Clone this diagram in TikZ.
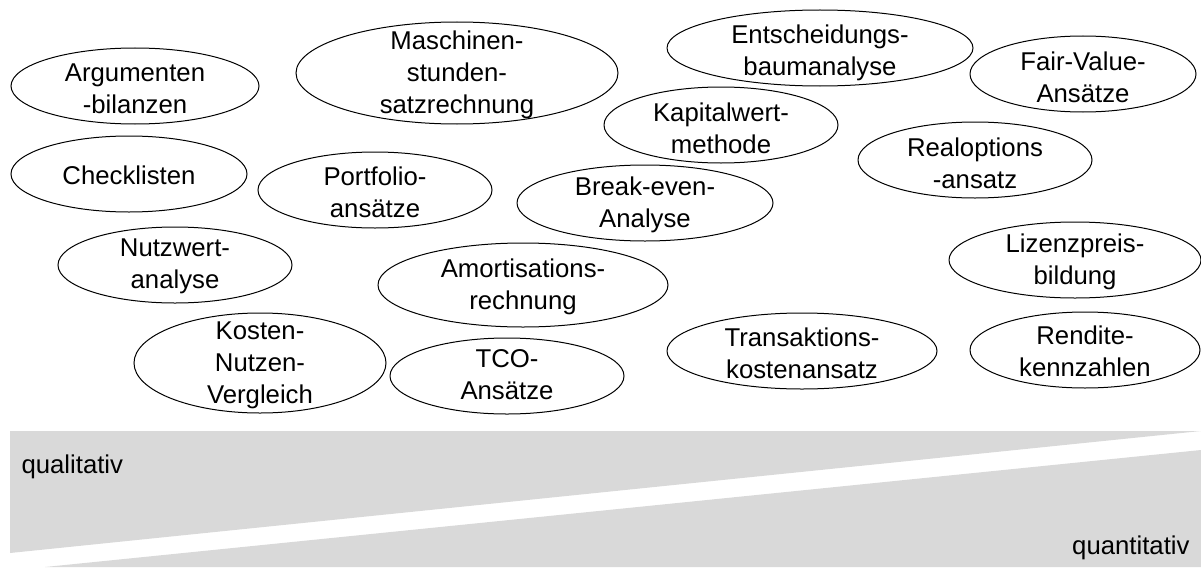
\documentclass[tikz,border=0pt]{standalone}
\usepackage{fontspec}
\setmainfont{Liberation Sans}
\usetikzlibrary{shapes}
\tikzset{every picture/.style={line width=0.75pt}}
\tikzset{txt/.style={align=center, inner sep=0.75pt, font=\fontsize{19.3}{24}\selectfont}}
\definecolor{band}{RGB}{217,217,217}

\begin{document}
\begin{tikzpicture}[x=0.75pt,y=0.75pt,yscale=-1,xscale=1]
\useasboundingbox (0,0) rectangle (1201,567);

%Shape: Band upper part
\fill [band] (10,431) -- (1201,431) -- (10,553) -- cycle ;
%Shape: Band lower part
\fill [band] (1201,450) -- (1201,567) -- (45,567) -- cycle ;

%Shape: Ellipse
\draw (135,86) ellipse [x radius=124, y radius=38] ;
%Shape: Ellipse
\draw (457,73) ellipse [x radius=161, y radius=51] ;
%Shape: Ellipse
\draw (129,174) ellipse [x radius=118, y radius=38] ;
%Shape: Ellipse
\draw (375,190) ellipse [x radius=117, y radius=38] ;
%Shape: Ellipse
\draw (820,48) ellipse [x radius=153, y radius=38] ;
%Shape: Ellipse
\draw (1083,74) ellipse [x radius=113, y radius=38] ;
%Shape: Ellipse
\draw (721,125) ellipse [x radius=117, y radius=38] ;
%Shape: Ellipse
\draw (975,160) ellipse [x radius=117, y radius=38] ;
%Shape: Ellipse
\draw (645,203) ellipse [x radius=128, y radius=38] ;
%Shape: Ellipse
\draw (523,285) ellipse [x radius=145, y radius=42] ;
%Shape: Ellipse
\draw (507,376) ellipse [x radius=117, y radius=38] ;
%Shape: Ellipse
\draw (802,351) ellipse [x radius=135, y radius=38] ;
%Shape: Ellipse
\draw (175,265) ellipse [x radius=117, y radius=38] ;
%Shape: Ellipse
\draw (260,363) ellipse [x radius=126, y radius=50] ;
%Shape: Ellipse
\draw (1075,260) ellipse [x radius=126, y radius=38] ;
%Shape: Ellipse
\draw (1085,350) ellipse [x radius=115, y radius=38] ;

% Text Node
\node [txt] (argu) at (135,89) {Argumenten\\-bilanzen};
% Text Node
\node [txt] (masch) at (457,75) {Maschinen-\\stunden-\\satzrechnung};
% Text Node
\node [txt] (check) at (129,175) {Checklisten};
% Text Node
\node [txt] (portf) at (375,192) {Portfolio-\\ansätze};
% Text Node
\node [txt] (entsch) at (820,53) {Entscheidungs-\\baumanalyse};
% Text Node
\node [txt] (fair) at (1083,77) {Fair-Value-\\Ansätze};
% Text Node
\node [txt] (kapital) at (721,128) {Kapitalwert-\\methode};
% Text Node
\node [txt] (realopt) at (975,163) {Realoptions\\-ansatz};
% Text Node
\node [txt] (break) at (645,205) {Break-even-\\Analyse};
% Text Node
\node [txt] (amort) at (523,287) {Amortisations-\\rechnung};
% Text Node
\node [txt] (tco) at (507,375) {TCO-\\Ansätze};
% Text Node
\node [txt] (trans) at (802,353) {Transaktions-\\kostenansatz};
% Text Node
\node [txt] (nutz) at (175,266) {Nutzwert-\\analyse};
% Text Node
\node [txt] (kosten) at (260,365) {Kosten-\\Nutzen-\\Vergleich};
% Text Node
\node [txt] (lizenz) at (1075,262) {Lizenzpreis-\\bildung};
% Text Node
\node [txt] (rendite) at (1085,351) {Rendite-\\kennzahlen};

% Text Node
\node [txt, anchor=west] (quali) at (20,467) {qualitativ};
% Text Node
\node [txt, anchor=east] (quanti) at (1191,548) {quantitativ};

\end{tikzpicture}
\end{document}
